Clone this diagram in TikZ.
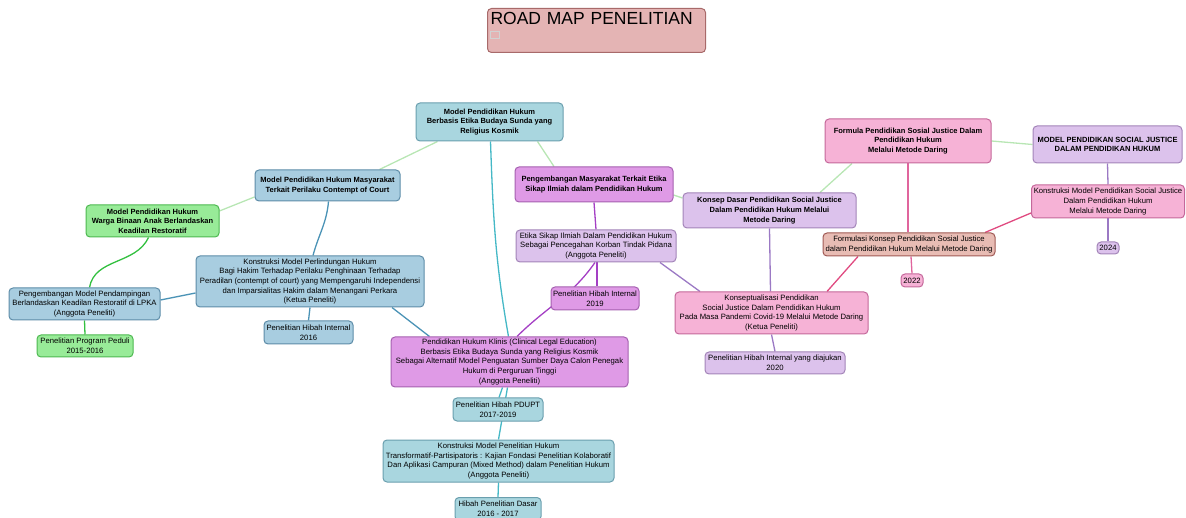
\documentclass[tikz,border=0pt]{standalone}
\usepackage{fontspec}
\setmainfont{Liberation Sans}
\usetikzlibrary{backgrounds}

\definecolor{tealL}{HTML}{A9D6DF}
\definecolor{tealD}{HTML}{6A9FAE}
\definecolor{blueL}{HTML}{A8CDE0}
\definecolor{blueD}{HTML}{5D8CA8}
\definecolor{greenL}{HTML}{98EB98}
\definecolor{greenD}{HTML}{4DB850}
\definecolor{magL}{HTML}{DF9AE6}
\definecolor{magD}{HTML}{A560B0}
\definecolor{purL}{HTML}{DCC2EC}
\definecolor{purD}{HTML}{A384B8}
\definecolor{pinkL}{HTML}{F6B2D6}
\definecolor{pinkD}{HTML}{C4689A}
\definecolor{salL}{HTML}{E8BCB4}
\definecolor{salD}{HTML}{A05A55}
\definecolor{headL}{HTML}{E4B4B4}
\definecolor{headD}{HTML}{A86A6A}
\definecolor{lnLight}{HTML}{B8E6B4}
\definecolor{lnTeal}{HTML}{45B8C6}
\definecolor{lnBlue}{HTML}{4B93B6}
\definecolor{lnGreen}{HTML}{33C040}
\definecolor{lnViolet}{HTML}{A43FC4}
\definecolor{lnLav}{HTML}{9B79C4}
\definecolor{lnPink}{HTML}{E0659D}
\definecolor{lnRed}{HTML}{E04A80}

\begin{document}
\begin{tikzpicture}[x=1pt, y=-1pt,
		bx/.style = {rectangle, rounded corners=4pt, line width=1pt, align=center, inner sep=1pt, font=\fontsize{7.7}{9.6}\selectfont},
		bd/.style = {font=\bfseries\fontsize{7.5}{9.6}\selectfont},
		wh/.style 2 args = {minimum width=#1pt, minimum height=#2pt},
		tl/.style = {bx, draw=tealD,	fill=tealL},
		bl/.style = {bx, draw=blueD,	fill=blueL},
		gr/.style = {bx, draw=greenD,	fill=greenL},
		mg/.style = {bx, draw=magD,		fill=magL},
		pu/.style = {bx, draw=purD,		fill=purL},
		pk/.style = {bx, draw=pinkD,	fill=pinkL},
		sa/.style = {bx, draw=salD,		fill=salL},
		hd/.style = {rectangle, rounded corners=4pt, line width=1pt, draw=headD, fill=headL},
		cg/.style = {line width=1.3pt, lnLight},
		ct/.style = {line width=1.3pt, lnTeal},
		cb/.style = {line width=1.3pt, lnBlue},
		cn/.style = {line width=1.3pt, lnGreen},
		cv/.style = {line width=1.3pt, lnViolet},
		cl/.style = {line width=1.3pt, lnLav},
		cp/.style = {line width=1.3pt, lnPink},
		cr/.style = {line width=1.3pt, lnRed}
		]
		\useasboundingbox (0,0) rectangle (1186,518);
		
		% === === Title === ===
		\node[hd, anchor=north west, inner xsep=3pt, inner ysep=2pt, text width=212pt, text height=14pt, text depth=26pt, align=left, font=\fontsize{17.5}{20}\selectfont]
			(title) at (487,8) {ROAD MAP PENELITIAN};
		\draw[gray!35] (490.5,31) rectangle (499,38);
		
		% === === Nodes === ===
		\node[tl, bd, wh={147}{38}]		(root)		at	(489.5,122)	{Model Pendidikan Hukum\\Berbasis Etika Budaya Sunda yang\\Religius Kosmik};
		
		\node[bl, bd, wh={145}{31}]		(contempt)	at	(327.5,185.5)	{Model Pendidikan Hukum Masyarakat\\Terkait Perilaku Contempt of Court};
		\node[gr, bd, wh={133}{32}]		(warga)		at	(152.5,221)	{Model Pendidikan Hukum\\Warga Binaan Anak Berlandaskan\\Keadilan Restoratif};
		\node[bl, wh={151}{32}]			(pmp)		at	(84.5,304)	{Pengembangan Model Pendampingan\\Berlandaskan Keadilan Restoratif di LPKA\\(Anggota Peneliti)};
		\node[gr, wh={96}{22}]			(peduli)	at	(85,346)	{Penelitian Program Peduli\\2015-2016};
		\node[bl, wh={228}{51}]			(kmph)		at	(310,281.5)	{Konstruksi Model Perlindungan Hukum\\Bagi Hakim Terhadap Perilaku Penghinaan Terhadap\\Peradilan (contempt of court) yang Mempengaruhi Independensi\\dan Imparsialitas Hakim dalam Menangani Perkara\\(Ketua Peneliti)};
		\node[bl, wh={89}{23}]			(hib2016)	at	(308.5,332.5)	{Penelitian Hibah Internal\\2016};
		
		\node[mg, wh={237}{50}]			(phk)		at	(509.5,362)	{Pendidikan Hukum Klinis (Clinical Legal Education)\\Berbasis Etika Budaya Sunda yang Religius Kosmik\\Sebagai Alternatif Model Penguatan Sumber Daya Calon Penegak\\Hukum di Perguruan Tinggi\\(Anggota Peneliti)};
		\node[tl, wh={90}{23}]			(pdupt)		at	(498,409.5)	{Penelitian Hibah PDUPT\\2017-2019};
		\node[tl, wh={231}{42}]			(kmpen)		at	(498.5,461)	{Konstruksi Model Penelitian Hukum\\Transformatif-Partisipatoris : Kajian Fondasi Penelitian Kolaboratif\\Dan Aplikasi Campuran (Mixed Method) dalam Penelitian Hukum\\(Anggota Peneliti)};
		\node[tl, wh={86}{23}]			(dasar)		at	(498,509)	{Hibah Penelitian Dasar\\2016 - 2017};
		
		\node[mg, bd, wh={158}{35}]		(pm)		at	(594,184.5)	{Pengembangan Masyarakat Terkait Etika\\Sikap Ilmiah dalam Pendidikan Hukum};
		\node[pu, wh={160}{32}]			(etika)		at	(596,246)	{Etika Sikap Ilmiah Dalam Pendidikan Hukum\\Sebagai Pencegahan Korban Tindak Pidana\\(Anggota Peneliti)};
		\node[mg, wh={88}{23}]			(hib2019)	at	(595,298.5)	{Penelitian Hibah Internal\\2019};
		
		\node[pu, bd, wh={173}{35}]		(konsepdasar)	at	(769.5,210.5)	{Konsep Dasar Pendidikan Social Justice\\Dalam Pendidikan Hukum Melalui\\Metode Daring};
		\node[pk, bd, wh={166}{44}]		(formula)	at	(908,141)	{Formula Pendidikan Sosial Justice Dalam\\Pendidikan Hukum\\Melalui Metode Daring};
		\node[pu, bd, wh={149}{37}]		(model)		at	(1107.5,144.5)	{MODEL PENDIDIKAN SOCIAL JUSTICE\\DALAM PENDIDIKAN HUKUM};
		\node[pk, wh={153}{33}]			(kmpsj)		at	(1108,201.5)	{Konstruksi Model Pendidikan Social Justice\\Dalam Pendidikan Hukum\\Melalui Metode Daring};
		\node[pu, wh={22}{12}]			(y2024)		at	(1108,248)	{2024};
		\node[sa, wh={172}{23}]			(formulasi)	at	(909,244.5)	{Formulasi Konsep Pendidikan Sosial Justice\\dalam Pendidikan Hukum Melalui Metode Daring};
		\node[pk, wh={22}{13}]			(y2022)		at	(912,280.5)	{2022};
		\node[pk, wh={193}{42}]			(konsep)	at	(771.5,313)	{Konseptualisasi Pendidikan\\Social Justice Dalam Pendidikan Hukum\\Pada Masa Pandemi Covid-19 Melalui Metode Daring\\(Ketua Peneliti)};
		\node[pu, wh={140}{22}]			(hib2020)	at	(775,363)	{Penelitian Hibah Internal yang diajukan\\2020};
		
		% === === Lines === ===
		\begin{scope}[on background layer]
		\draw[cg]	([xshift=-52pt]root.south)		to	([xshift=52pt]contempt.north);
		\draw[cg]	([xshift=48pt]root.south)		to	([xshift=-40pt]pm.north);
		\draw[ct]	([xshift=1pt]root.south)		to[out=-88, in=100]	([xshift=-1pt]phk.north);
		
		\draw[cg]	([yshift=-11.5pt]contempt.west)	to	([yshift=10pt]warga.east);
		\draw[cb]	([xshift=1pt]contempt.south)	to[out=-95, in=75]	([xshift=3pt]kmph.north);
		\draw[cn]	([xshift=-4pt]warga.south)		to[out=-115, in=80]	([xshift=5pt]pmp.north);
		\draw[cn]	(pmp.south)						to	(peduli.north);
		\draw[cb]	([yshift=-11.5pt]kmph.west)		to	([yshift=4pt]pmp.east);
		\draw[cb]	(kmph.south)					to	(hib2016.north);
		\draw[cb]	([xshift=82pt]kmph.south)		to	([xshift=-80pt]phk.north);
		
		\draw[ct]	([xshift=-7pt]phk.south)		to	([xshift=1pt]pdupt.north);
		\draw[ct]	([xshift=-2pt]phk.south)		to	(kmpen.north);
		\draw[ct]	(kmpen.south)					to	(dasar.north);
		
		\draw[cv]	(pm.south)						to	(etika.north);
		\draw[cv]	([xshift=1pt]etika.south)		to	([xshift=2pt]hib2019.north);
		\draw[cv]	([xshift=-1pt]etika.south)		to[out=-125, in=45]	([xshift=7.5pt]phk.north);
		\draw[cl]	([xshift=64pt]etika.south)		to	([xshift=-71.5pt]konsep.north);
		
		\draw[cg]	([yshift=-10.5pt]pm.east)		to	([yshift=12.5pt]konsepdasar.west);
		\draw[cg]	([xshift=50.5pt]konsepdasar.north)	to	([xshift=-56pt]formula.south);
		\draw[cg]	(formula.east)					to	(model.west);
		\draw[cl]	(konsepdasar.south)				to	([xshift=-1pt]konsep.north);
		\draw[cp]	(formula.south)					to	([xshift=-1pt]formulasi.north);
		\draw[cp]	([xshift=2pt]formulasi.south)	to	(y2022.north);
		\draw[cl]	(model.south)					to	(kmpsj.north);
		\draw[cl]	(kmpsj.south)					to	(y2024.north);
		\draw[cr]	([yshift=-11.5pt]kmpsj.west)	to	([xshift=76pt]formulasi.north);
		\draw[cr]	([xshift=-51pt]formulasi.south)	to	([xshift=55.5pt]konsep.north);
		\draw[cl]	(konsep.south)					to	(hib2020.north);
		\end{scope}
		
	\end{tikzpicture}
\end{document}
